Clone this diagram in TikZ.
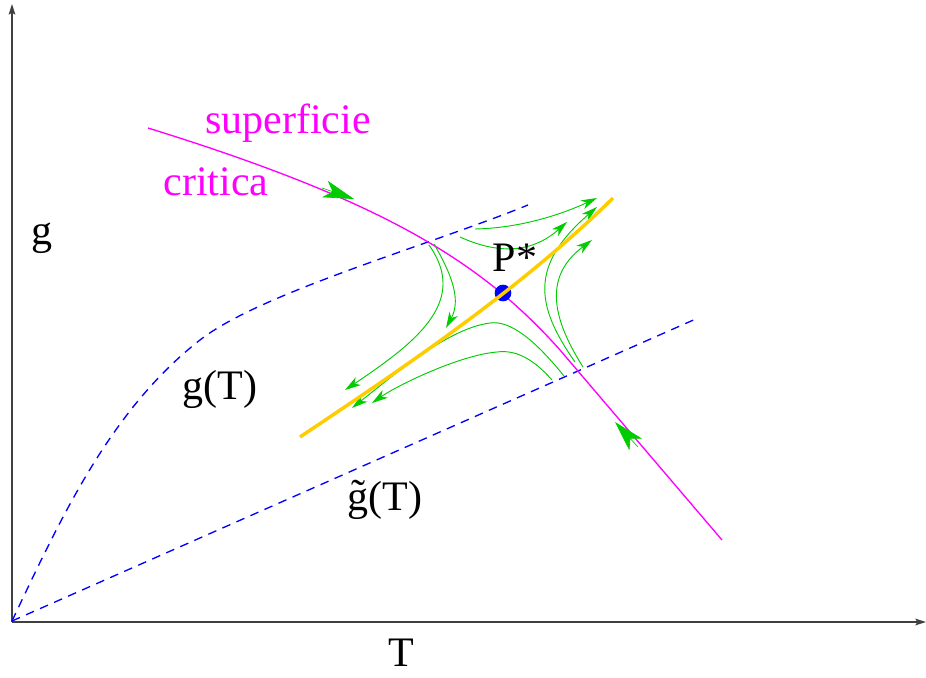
\documentclass[tikz,border=0pt]{standalone}
\usepackage{fontspec}
\setmainfont{Liberation Serif}
\usetikzlibrary{arrows.meta}
\definecolor{mag}{RGB}{255,0,255}
\definecolor{flow}{RGB}{0,204,0}
\definecolor{dblue}{RGB}{0,0,255}
\definecolor{gold}{RGB}{255,204,0}
\begin{document}
\begin{tikzpicture}[x=0.75pt,y=-0.75pt,
  lbl/.style={font=\fontsize{31.5}{36}\selectfont, inner sep=0pt, anchor=base},
  axisline/.style={line width=0.9pt, draw=black!75, -{Stealth[length=8pt,width=5pt,inset=1.5pt]}},
  bluedash/.style={dblue, line width=1pt, dash pattern=on 6.5pt off 5pt},
  flowline/.style={flow, line width=0.7pt, -{Stealth[length=12pt,width=7pt,inset=3.5pt]}},
  bigarrow/.style={flow, line width=0.5pt, -{Stealth[length=23pt,width=13pt,inset=6pt]}}
]
\useasboundingbox (0,0) rectangle (926,678);
% axes
\coordinate (O) at (12,622);
\coordinate (ytop) at (12,4);
\coordinate (xend) at (926,622);
\draw[axisline] (O) -- (ytop);
\draw[axisline] (O) -- (xend);
% dashed curves
\coordinate (gs) at (12,621);
\coordinate (gm) at (200,340);
\coordinate (ge) at (528,205);
\draw[bluedash] (gs) .. controls (60,520) and (110,410) .. (gm) .. controls (260,293) and (430,245) .. (ge);
\coordinate (gte) at (698,318);
\draw[bluedash] (gs) -- (gte);
% critical surface
\coordinate (cs) at (148,128);
\coordinate (cm) at (560,350);
\coordinate (ce) at (722,540);
\draw[mag, line width=1pt] (cs) .. controls (380,200) and (480,260) .. (cm) -- (ce);
% flow lines
\draw[flowline] (429,245) .. controls (468,300) and (420,340) .. (345,390);
\draw[flowline] (434,244) .. controls (455,280) and (460,302) .. (446,328);
\draw[flowline] (475,229) .. controls (520,228) and (560,215) .. (597,198);
\draw[flowline] (460,237) .. controls (495,253) and (530,255) .. (567,222);
\draw[flowline] (575,362) .. controls (535,305) and (530,265) .. (597,207);
\draw[flowline] (583,367) .. controls (550,315) and (545,275) .. (592,240);
\draw[flowline] (564,376) .. controls (535,340) and (510,320) .. (490,323) .. controls (450,328) and (400,370) .. (352,408);
\draw[flowline] (552,380) .. controls (530,355) and (512,350) .. (497,352) .. controls (460,355) and (398,385) .. (372,403);
% fixed point
\node[circle, fill=dblue, inner sep=0pt, minimum size=12.5pt] (P) at (503,293) {};
% unstable line
\draw[gold, line width=2.6pt] (300,437) .. controls (400,370) and (520,290) .. (613,198);
% big arrows on the critical surface
\draw[bigarrow] (322,188) -- (354,199);
\draw[bigarrow] (638,447) -- (615,422);
% labels
\node[lbl, text=mag] (sup) at (288,133) {superficie};
\node[lbl, text=mag] (crit) at (216,195) {critica};
\node[lbl] (gl) at (42,244) {g};
\node[lbl] (gT) at (220,399) {g(T)};
\node[lbl] (gtT) at (385,510) {\~{g}(T)};
\node[lbl] (Tl) at (401,666) {T};
\node[lbl] (Pl) at (515,271) {P*};
\end{tikzpicture}
\end{document}
